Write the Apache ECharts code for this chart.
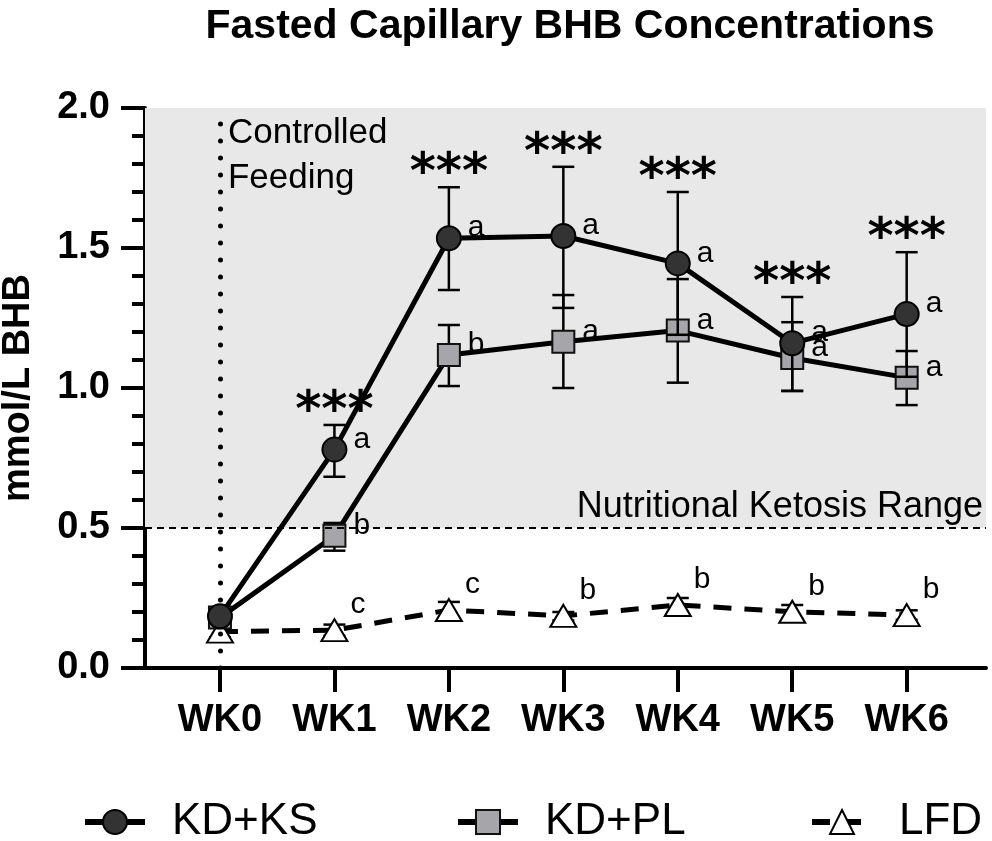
<!DOCTYPE html>
<html><head><meta charset="utf-8">
<script src="https://cdn.jsdelivr.net/npm/echarts@6/dist/echarts.min.js"></script>
<style>html,body{margin:0;padding:0;background:#fff}#c{width:992px;height:841px}</style>
</head><body><div id="c"></div>
<script>
const weeks = ['WK0', 'WK1', 'WK2', 'WK3', 'WK4', 'WK5', 'WK6'];
const kdksMean = [0.185, 0.78, 1.535, 1.543, 1.445, 1.16, 1.264];
const kdksLow  = [0.165, 0.683, 1.35, 1.286, 1.19, 0.99, 1.04];
const kdksHigh = [0.205, 0.868, 1.717, 1.79, 1.70, 1.325, 1.485];
const kdplMean = [0.18, 0.472, 1.118, 1.165, 1.205, 1.107, 1.037];
const kdplLow  = [0.16, 0.419, 1.007, 1.0, 1.019, 0.989, 0.939];
const kdplHigh = [0.2, 0.518, 1.225, 1.332, 1.389, 1.235, 1.132];
const lfdMean = [0.13, 0.135, 0.207, 0.186, 0.225, 0.201, 0.189];
const lfdLow  = [0.11, 0.115, 0.18, 0.17, 0.2, 0.178, 0.172];
const lfdHigh = [0.15, 0.155, 0.236, 0.2, 0.25, 0.225, 0.206];
const kdksLetters = ['', 'a', 'a', 'a', 'a', 'a', 'a'];
const kdplLetters = ['', 'b', 'b', 'a', 'a', 'a', 'a'];
const lfdLetters  = ['', 'c', 'c', 'b', 'b', 'b', 'b'];
const sigMarks = ['', '***', '***', '***', '***', '***', '***'];
const seriesNames = ['KD+KS', 'KD+PL', 'LFD'];
const yTicks = [0, 0.5, 1.0, 1.5, 2.0];
const ketosisThreshold = 0.5;
const feedingStart = 0;

const FONT = '"Liberation Sans", Arial, sans-serif';
const chart = echarts.init(document.getElementById('c'));

function pairs(arr) { return arr.map((v, i) => [i, v]); }
function ranges(lo, hi) { return lo.map((v, i) => [i, v, hi[i]]); }

function errRender(withSig) {
  return function (params, api) {
    const x = api.value(0), lo = api.value(1), hi = api.value(2);
    const pLo = api.coord([x, lo]), pHi = api.coord([x, hi]);
    const hw = 11;
    const st = { stroke: '#000', lineWidth: 2.5 };
    const children = [
      { type: 'line', shape: { x1: pLo[0], y1: pLo[1], x2: pHi[0], y2: pHi[1] }, style: st },
      { type: 'line', shape: { x1: pLo[0] - hw, y1: pLo[1], x2: pLo[0] + hw, y2: pLo[1] }, style: st },
      { type: 'line', shape: { x1: pHi[0] - hw, y1: pHi[1], x2: pHi[0] + hw, y2: pHi[1] }, style: st }
    ];
    if (withSig) {
      const s = sigMarks[params.dataIndex];
      if (s) children.push({ type: 'text', x: pHi[0], y: pHi[1] - 12,
        style: { text: s, font: 'bold 50px "DejaVu Sans"', fill: '#000', align: 'center', verticalAlign: 'middle' } });
    }
    return { type: 'group', children };
  };
}

function letterLabel(letters, dist, dx, dy) {
  return { show: true, position: 'right', distance: dist, offset: [dx, dy],
    formatter: p => letters[p.dataIndex], fontSize: 30, fontFamily: FONT, color: '#000' };
}

const legendBase = { orient: 'horizontal', top: 795, itemWidth: 60, itemHeight: 30,
  lineStyle: { width: 6 },
  textStyle: { fontSize: 44, fontFamily: FONT, color: '#000', padding: [0, 0, 0, 22] } };

const option = {
  animation: false,
  backgroundColor: '#fff',
  title: { text: 'Fasted Capillary BHB Concentrations', left: 565, textAlign: 'center', top: 1,
    textStyle: { fontSize: 41, fontWeight: 'bold', fontFamily: FONT, color: '#000' } },
  grid: { left: 145, right: 6, top: 108, bottom: 173, containLabel: false, outerBoundsMode: 'none' },
  legend: [
    Object.assign({}, legendBase, { left: 77, data: [seriesNames[0]] }),
    Object.assign({}, legendBase, { left: 450, data: [seriesNames[1]] }),
    Object.assign({}, legendBase, { left: 804, data: [seriesNames[2]] })
  ],
  xAxis: {
    type: 'value', min: -0.655, max: 6.693,
    splitLine: { show: false },
    axisLine: { show: true, onZero: false, lineStyle: { color: '#000', width: 4 } },
    axisTick: { show: true, customValues: [0, 1, 2, 3, 4, 5, 6], length: 24, lineStyle: { color: '#000', width: 4 } },
    axisLabel: { customValues: [0, 1, 2, 3, 4, 5, 6], formatter: v => weeks[Math.round(v)], margin: 34,
      fontSize: 38, fontWeight: 'bold', fontFamily: FONT, color: '#000' }
  },
  yAxis: {
    type: 'value', min: 0, max: 2, interval: 0.5,
    name: 'mmol/L BHB', nameLocation: 'middle', nameGap: 107, nameRotate: 90, nameMoveOverlap: false,
    nameTextStyle: { fontSize: 38, fontWeight: 'bold', fontFamily: FONT, color: '#000' },
    splitLine: { show: false },
    axisLine: { show: true, onZero: false, lineStyle: { color: '#000', width: 4 } },
    axisTick: { show: true, length: 24, lineStyle: { color: '#000', width: 4 } },
    minorTick: { show: true, splitNumber: 5, length: 13, lineStyle: { color: '#000', width: 4 } },
    axisLabel: { formatter: v => v.toFixed(1), margin: 35, fontSize: 38, fontWeight: 'bold', fontFamily: FONT, color: '#000' }
  },
  series: [
    { type: 'line', name: '_area', data: [], z: -2, silent: true,
      markArea: { silent: true, itemStyle: { color: '#e8e8e8' },
        data: [[{ yAxis: ketosisThreshold }, { yAxis: yTicks[yTicks.length - 1] }]] } },
    { type: 'line', name: '_lines', data: [], z: -1, silent: true,
      markLine: { silent: true, symbol: ['none', 'none'], animation: false,
        data: [
          { yAxis: ketosisThreshold, lineStyle: { color: '#000', width: 2, type: [7, 5] },
            label: { show: true, formatter: 'Nutritional Ketosis Range', position: 'insideEndTop', distance: [3, 3],
              fontSize: 36, fontFamily: FONT, color: '#000' } },
          { xAxis: feedingStart, lineStyle: { color: '#000', width: 5, type: [0.1, 16.9], cap: 'round' },
            label: { show: false } }
        ] } },
    { type: 'custom', name: 'LFD_err', z: 1, renderItem: errRender(false), encode: { x: 0, y: [1, 2] },
      data: ranges(lfdLow, lfdHigh), silent: true },
    { type: 'line', name: seriesNames[2], data: pairs(lfdMean), z: 2,
      symbol: 'triangle', symbolSize: [26, 22],
      lineStyle: { color: '#000', width: 5, type: [18, 13] },
      itemStyle: { color: '#fff', borderColor: '#000', borderWidth: 2 },
      label: letterLabel(lfdLetters, 2, 0, -25) },
    { type: 'custom', name: 'PL_err', z: 3, renderItem: errRender(false), encode: { x: 0, y: [1, 2] },
      data: ranges(kdplLow, kdplHigh), silent: true },
    { type: 'line', name: seriesNames[1], data: pairs(kdplMean), z: 4,
      symbol: 'rect', symbolSize: 22,
      lineStyle: { color: '#000', width: 5 },
      itemStyle: { color: '#a6a6aa', borderColor: '#111', borderWidth: 2 },
      label: letterLabel(kdplLetters, 7, 0, -10) },
    { type: 'custom', name: 'KS_err', z: 5, renderItem: errRender(true), encode: { x: 0, y: [1, 2] },
      data: ranges(kdksLow, kdksHigh), silent: true },
    { type: 'line', name: seriesNames[0], data: pairs(kdksMean), z: 6,
      symbol: 'circle', symbolSize: 24,
      lineStyle: { color: '#000', width: 5 },
      itemStyle: { color: '#333', borderColor: '#000', borderWidth: 2 },
      label: letterLabel(kdksLetters, 6, 0, -10) }
  ]
};
chart.setOption(option);

const p = chart.convertToPixel({ gridIndex: 0 }, [feedingStart, yTicks[yTicks.length - 1]]);
chart.setOption({ graphic: [{ type: 'text', x: p[0] + 8, y: p[1] + 3, z: 10,
  style: { text: 'Controlled\nFeeding', font: '35px "Liberation Sans", Arial, sans-serif', lineHeight: 45, fill: '#000' } }] });
</script></body></html>
